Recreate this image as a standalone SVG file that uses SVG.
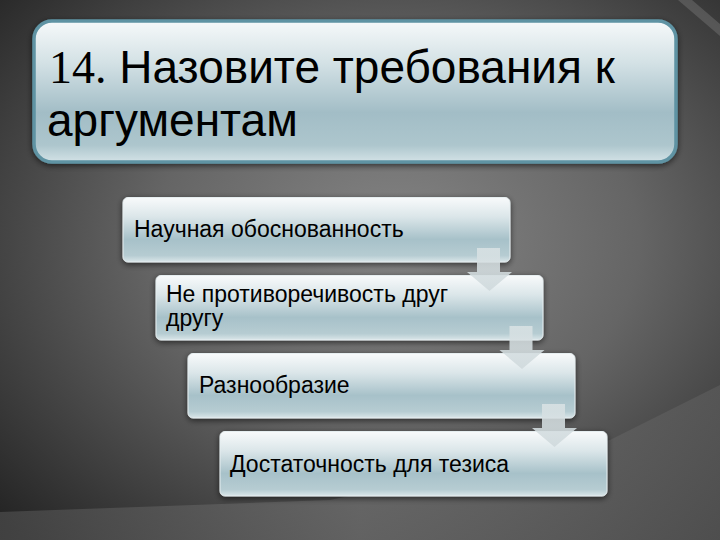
<svg xmlns="http://www.w3.org/2000/svg" width="720" height="540" viewBox="0 0 720 540">
  <defs>
    <radialGradient id="bg" cx="0.55" cy="0.45" r="0.75">
      <stop offset="0" stop-color="#858585"/>
      <stop offset="0.45" stop-color="#656565"/>
      <stop offset="1" stop-color="#242424"/>
    </radialGradient>
    <linearGradient id="band" x1="0" y1="0" x2="1" y2="0">
      <stop offset="0" stop-color="#4a4a4a"/>
      <stop offset="0.5" stop-color="#6c6c6c"/>
      <stop offset="1" stop-color="#5a5a5a"/>
    </linearGradient>
    <linearGradient id="titleFill" x1="0" y1="0" x2="0" y2="1">
      <stop offset="0" stop-color="#f6f9fa"/>
      <stop offset="0.3" stop-color="#d3e1e5"/>
      <stop offset="0.65" stop-color="#a2bdc6"/>
      <stop offset="0.88" stop-color="#adc6cd"/>
      <stop offset="1" stop-color="#d3e2e6"/>
    </linearGradient>
    <linearGradient id="boxFill" x1="0" y1="0" x2="0" y2="1">
      <stop offset="0" stop-color="#f8fafb"/>
      <stop offset="0.3" stop-color="#dbe6e9"/>
      <stop offset="0.65" stop-color="#a7c1c9"/>
      <stop offset="0.9" stop-color="#b6ccd2"/>
      <stop offset="1" stop-color="#dae6e9"/>
    </linearGradient>
    <linearGradient id="arrowFill" x1="0" y1="0" x2="0" y2="1">
      <stop offset="0" stop-color="#d9e2e4"/>
      <stop offset="1" stop-color="#cfd9dc"/>
    </linearGradient>
    <filter id="shadow" x="-10%" y="-20%" width="120%" height="150%">
      <feGaussianBlur in="SourceAlpha" stdDeviation="3"/>
      <feOffset dx="0" dy="2" result="b"/>
      <feComponentTransfer><feFuncA type="linear" slope="0.6"/></feComponentTransfer>
      <feMerge><feMergeNode/><feMergeNode in="SourceGraphic"/></feMerge>
    </filter>
  </defs>
  <style>
    .box { fill: url(#boxFill); stroke: #e6eef0; stroke-width: 1; }
    .lbl { font-family: "Liberation Sans", Arial, sans-serif; font-size: 23px; fill: #000000; }
    .ttl { font-family: "Liberation Sans", Arial, sans-serif; font-size: 46px; fill: #000000; }
    .num { font-family: "Liberation Serif", "Times New Roman", serif; }
    .arrow { fill: url(#arrowFill); fill-opacity: 0.88; }
  </style>

  <rect x="0" y="0" width="720" height="540" fill="url(#bg)"/>
  <polygon points="0,512 330,500 610,440 720,385 720,540 0,540" fill="url(#band)" opacity="0.75"/>
  <polygon points="678,0 692,0 720,24 720,36" fill="#8a8a8a" opacity="0.35"/>

  <g id="title">
    <rect x="34" y="21" width="642" height="141" rx="18" ry="18" fill="url(#titleFill)" stroke="#5e93a3" stroke-width="3.5" filter="url(#shadow)"/>
    <text class="ttl" x="49" y="83"><tspan class="num">14.</tspan> Назовите требования к</text>
    <text class="ttl" x="47" y="136">аргументам</text>
  </g>

  <g id="box1">
    <rect class="box" x="123" y="197.5" width="387" height="64.5" rx="5" filter="url(#shadow)"/>
    <text class="lbl" x="134" y="237">Научная обоснованность</text>
  </g>
  <g id="box2">
    <rect class="box" x="156" y="275.5" width="387" height="64.5" rx="5" filter="url(#shadow)"/>
    <text class="lbl" x="166" y="302">Не противоречивость друг</text>
    <text class="lbl" x="166" y="326">другу</text>
  </g>
  <g id="box3">
    <rect class="box" x="188" y="353.5" width="387" height="64.5" rx="5" filter="url(#shadow)"/>
    <text class="lbl" x="199" y="393">Разнообразие</text>
  </g>
  <g id="box4">
    <rect class="box" x="220" y="431.5" width="387" height="64.5" rx="5" filter="url(#shadow)"/>
    <text class="lbl" x="230" y="472">Достаточность для тезиса</text>
  </g>

  <g id="connectors">
    <path class="arrow" d="M477,248 H500 V272 H512 L489.5,291 L467,272 H477 Z"/>
    <path class="arrow" d="M477,248 H500 V272 H512 L489.5,291 L467,272 H477 Z" transform="translate(32.5,78)"/>
    <path class="arrow" d="M477,248 H500 V272 H512 L489.5,291 L467,272 H477 Z" transform="translate(65,156)"/>
  </g>
</svg>
